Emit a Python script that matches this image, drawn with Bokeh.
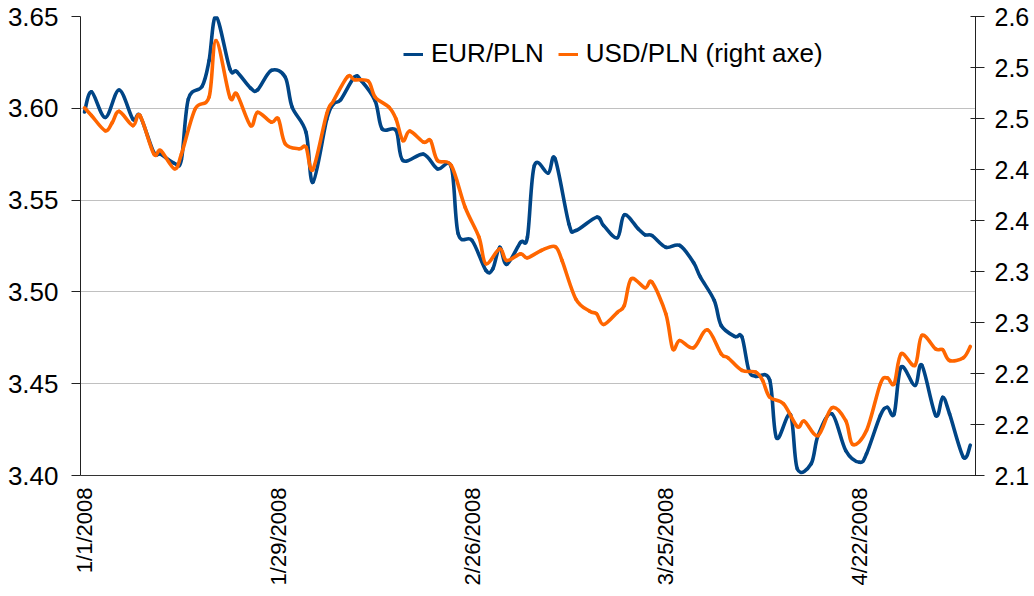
import math
import pandas as pd
from bokeh.plotting import figure
from bokeh.models import (Range1d, LinearAxis, FixedTicker, PrintfTickFormatter,
                          Legend, LegendItem)
from bokeh.embed import file_html
from bokeh.resources import INLINE

# ---------------- data ----------------
eur_dates = ["2008-01-01", "2008-01-02", "2008-01-04", "2008-01-06", "2008-01-08", "2008-01-09",
             "2008-01-11", "2008-01-12", "2008-01-14", "2008-01-15", "2008-01-16", "2008-01-18",
             "2008-01-19", "2008-01-20", "2008-01-22", "2008-01-23", "2008-01-25", "2008-01-26",
             "2008-01-28", "2008-01-30", "2008-01-31",
             "2008-02-02", "2008-02-03", "2008-02-05", "2008-02-06", "2008-02-07", "2008-02-09",
             "2008-02-10", "2008-02-12", "2008-02-13", "2008-02-15", "2008-02-16", "2008-02-19",
             "2008-02-21", "2008-02-23", "2008-02-24", "2008-02-26", "2008-02-28", "2008-02-29",
             "2008-03-01", "2008-03-02", "2008-03-04", "2008-03-05", "2008-03-06", "2008-03-08",
             "2008-03-09", "2008-03-11", "2008-03-12", "2008-03-15", "2008-03-16", "2008-03-18",
             "2008-03-19", "2008-03-21", "2008-03-22", "2008-03-23", "2008-03-25", "2008-03-27",
             "2008-03-29", "2008-03-30",
             "2008-04-01", "2008-04-02", "2008-04-04", "2008-04-05", "2008-04-06", "2008-04-07",
             "2008-04-09", "2008-04-10", "2008-04-12", "2008-04-13", "2008-04-15", "2008-04-16",
             "2008-04-18", "2008-04-20", "2008-04-22", "2008-04-23", "2008-04-25", "2008-04-26",
             "2008-04-27", "2008-04-28", "2008-04-30",
             "2008-05-01", "2008-05-03", "2008-05-04", "2008-05-05", "2008-05-07", "2008-05-08"]
eur_pln = [3.598, 3.609, 3.595, 3.610, 3.594, 3.596, 3.576, 3.575, 3.570, 3.572, 3.605, 3.612,
           3.626, 3.650, 3.6215, 3.620, 3.611, 3.610, 3.6206, 3.617, 3.6006,
           3.587, 3.5597, 3.594, 3.6025, 3.6046, 3.617, 3.615, 3.604, 3.5888, 3.588, 3.5716, 3.575,
           3.567, 3.568, 3.5316, 3.528, 3.5117, 3.5126,
           3.5243, 3.515, 3.527, 3.5298, 3.5688, 3.5647, 3.5725, 3.537, 3.5334, 3.5407, 3.5362,
           3.5295, 3.542, 3.5344, 3.5311, 3.5307, 3.5243, 3.5253, 3.516, 3.508,
           3.4953, 3.4817, 3.4757, 3.4755, 3.4572, 3.454, 3.4521, 3.4205, 3.4332, 3.4036, 3.4064,
           3.4218, 3.4336, 3.4136, 3.4072, 3.4118, 3.4327, 3.4372, 3.4336, 3.459, 3.449,
           3.460, 3.4327, 3.4426, 3.4336, 3.410, 3.4165]

usd_dates = ["2008-01-01", "2008-01-02", "2008-01-04", "2008-01-05", "2008-01-06", "2008-01-08",
             "2008-01-09", "2008-01-11", "2008-01-12", "2008-01-14", "2008-01-15", "2008-01-17",
             "2008-01-19", "2008-01-20", "2008-01-22", "2008-01-23", "2008-01-25", "2008-01-26",
             "2008-01-28", "2008-01-29", "2008-01-30",
             "2008-02-01", "2008-02-02", "2008-02-03", "2008-02-05", "2008-02-06", "2008-02-08",
             "2008-02-09", "2008-02-11", "2008-02-12", "2008-02-14", "2008-02-15", "2008-02-16",
             "2008-02-17", "2008-02-19", "2008-02-20", "2008-02-21", "2008-02-23", "2008-02-25",
             "2008-02-27", "2008-02-28",
             "2008-03-01", "2008-03-02", "2008-03-04", "2008-03-05", "2008-03-07", "2008-03-09",
             "2008-03-10", "2008-03-12", "2008-03-14", "2008-03-15", "2008-03-16", "2008-03-18",
             "2008-03-19", "2008-03-20", "2008-03-22", "2008-03-23", "2008-03-25", "2008-03-26",
             "2008-03-27", "2008-03-29", "2008-03-31",
             "2008-04-02", "2008-04-03", "2008-04-05", "2008-04-07", "2008-04-08", "2008-04-09",
             "2008-04-11", "2008-04-13", "2008-04-14", "2008-04-16", "2008-04-18", "2008-04-20",
             "2008-04-21", "2008-04-23", "2008-04-25", "2008-04-26", "2008-04-27", "2008-04-28",
             "2008-04-30",
             "2008-05-01", "2008-05-03", "2008-05-04", "2008-05-05", "2008-05-07", "2008-05-08"]
usd_pln = [2.5105, 2.503, 2.488, 2.496, 2.507, 2.493, 2.503, 2.4654, 2.4686, 2.4507, 2.465,
           2.5095, 2.521, 2.5765, 2.521, 2.524, 2.493, 2.506, 2.4964, 2.4997, 2.4752,
           2.4703, 2.472, 2.450, 2.5046, 2.5176, 2.541, 2.538, 2.5366, 2.521, 2.511, 2.4997,
           2.4784, 2.4876, 2.4768, 2.4784, 2.4588, 2.4539, 2.413, 2.3836, 2.3576,
           2.3723, 2.3608, 2.3673, 2.3634, 2.3706, 2.3745, 2.3608, 2.323, 2.3111, 2.3085, 2.298,
           2.310, 2.3167, 2.3428, 2.334, 2.3395, 2.3085, 2.274, 2.2824, 2.2752, 2.2928,
           2.2693, 2.2654, 2.253, 2.2513, 2.243, 2.2268, 2.2203, 2.198, 2.2033, 2.1892, 2.2164,
           2.2039, 2.1804, 2.194, 2.2399, 2.2457, 2.2399, 2.2693, 2.258,
           2.2873, 2.274, 2.2733, 2.2627, 2.2654, 2.2765]

series_names = ["EUR/PLN", "USD/PLN (right axe)"]
date_ticks = ["2008-01-01", "2008-01-29", "2008-02-26", "2008-03-25", "2008-04-22"]
date_tick_labels = ["1/1/2008", "1/29/2008", "2/26/2008", "3/25/2008", "4/22/2008"]
eur_ticks = [3.40, 3.45, 3.50, 3.55, 3.60, 3.65]
usd_ticks = [2.15, 2.20, 2.25, 2.30, 2.35, 2.40, 2.45, 2.50, 2.55, 2.60]
usd_tick_labels = ["2.1", "2.2", "2.2", "2.3", "2.3", "2.4", "2.4", "2.5", "2.5", "2.6"]

# ---------------- styling ----------------
FONT = "Liberation Sans"
BLUE = "#004586"
ORANGE = "#ff6600"
LW = 3.6


def ms(s):
    return float(pd.Timestamp(s).value // 10**6)


def smooth_segments(dates, vals):
    """Bezier control points (Catmull-Rom style) so the series is drawn as a smoothed curve
    passing through every data point, like the original spreadsheet chart."""
    xs = [ms(d) for d in dates]
    ys = list(vals)
    n = len(xs)
    out = dict(x0=[], y0=[], x1=[], y1=[], cx0=[], cy0=[], cx1=[], cy1=[])
    for i in range(n - 1):
        xa_, ya_ = (xs[i - 1], ys[i - 1]) if i > 0 else (xs[i], ys[i])
        xb_, yb_ = (xs[i + 2], ys[i + 2]) if i + 2 < n else (xs[i + 1], ys[i + 1])
        out["x0"].append(xs[i]); out["y0"].append(ys[i])
        out["x1"].append(xs[i + 1]); out["y1"].append(ys[i + 1])
        out["cx0"].append(xs[i] + (xs[i + 1] - xa_) / 6.0)
        out["cy0"].append(ys[i] + (ys[i + 1] - ya_) / 6.0)
        out["cx1"].append(xs[i + 1] - (xb_ - xs[i]) / 6.0)
        out["cy1"].append(ys[i + 1] - (yb_ - ys[i]) / 6.0)
    return out


x_start = pd.Timestamp("2008-01-01") - pd.Timedelta(hours=14)
x_end = pd.Timestamp("2008-05-08") + pd.Timedelta(hours=18)

p = figure(x_axis_type="datetime", frame_width=895, frame_height=459,
           x_range=Range1d(x_start, x_end), y_range=Range1d(3.40, 3.65),
           output_backend="svg", toolbar_location=None,
           min_border_left=80, min_border_right=55, min_border_top=16, min_border_bottom=115)
p.extra_y_ranges = {"usd": Range1d(2.15, 2.60)}
p.outline_line_color = None
p.background_fill_color = "white"
p.border_fill_color = "white"

p.bezier(**smooth_segments(eur_dates, eur_pln), line_color=BLUE, line_width=LW,
         line_cap="round")
p.bezier(**smooth_segments(usd_dates, usd_pln), line_color=ORANGE, line_width=LW,
         line_cap="round", y_range_name="usd")

# one-point line renderers (draw nothing in the plot) used for the legend swatches
leg_eur = p.line(x=pd.to_datetime(eur_dates[:1]), y=eur_pln[:1], line_color=BLUE, line_width=3)
leg_usd = p.line(x=pd.to_datetime(usd_dates[:1]), y=usd_pln[:1], line_color=ORANGE,
                 line_width=3, y_range_name="usd")

# x axis
xa = p.xaxis[0]
xa.ticker = FixedTicker(ticks=[ms(d) for d in date_ticks])
xa.major_label_overrides = {ms(d): lab for d, lab in zip(date_ticks, date_tick_labels)}
xa.major_label_orientation = math.pi / 2
xa.major_tick_out = 0
xa.major_tick_in = 0
xa.minor_tick_out = 0
xa.minor_tick_in = 0
xa.axis_line_color = "#333333"
xa.major_label_text_font = FONT
xa.major_label_text_font_size = "22px"
xa.major_label_text_color = "black"
xa.major_label_standoff = 12

# left axis
ya = p.yaxis[0]
ya.ticker = FixedTicker(ticks=eur_ticks)
ya.formatter = PrintfTickFormatter(format="%.2f")
ya.major_tick_out = 9
ya.major_tick_in = 0
ya.minor_tick_out = 0
ya.minor_tick_in = 0
ya.axis_line_color = "#222222"
ya.major_tick_line_color = "#222222"
ya.major_label_text_font = FONT
ya.major_label_text_font_size = "26px"
ya.major_label_text_color = "black"
ya.major_label_standoff = 13

# right axis
ra = LinearAxis(y_range_name="usd", ticker=FixedTicker(ticks=usd_ticks),
                major_label_overrides={t: lab for t, lab in zip(usd_ticks, usd_tick_labels)})
ra.major_tick_out = 9
ra.major_tick_in = 5
ra.minor_tick_out = 0
ra.minor_tick_in = 0
ra.axis_line_color = "#222222"
ra.major_tick_line_color = "#222222"
ra.major_label_text_font = FONT
ra.major_label_text_font_size = "25px"
ra.major_label_text_color = "black"
ra.major_label_standoff = 10
p.add_layout(ra, "right")

# grid
p.xgrid.visible = False
p.ygrid.grid_line_color = "#c0c0c0"
p.ygrid.grid_line_width = 1

# legend
legend = Legend(items=[LegendItem(label=series_names[0], renderers=[leg_eur]),
                       LegendItem(label=series_names[1], renderers=[leg_usd])],
                orientation="horizontal", location=(323, 406),
                border_line_color=None, background_fill_alpha=0,
                padding=0, margin=0, spacing=14, label_standoff=8,
                glyph_width=20, glyph_height=20,
                label_text_font=FONT, label_text_font_size="26px",
                label_text_color="black")
p.add_layout(legend)

open("out.html", "w").write(file_html(p, INLINE))
